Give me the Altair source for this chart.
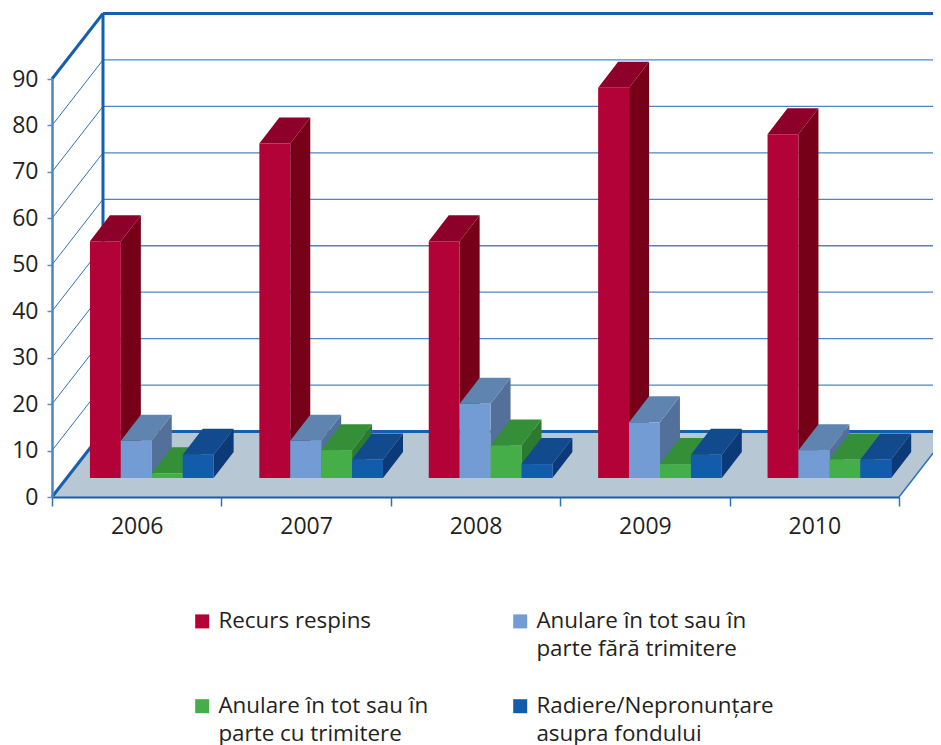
import altair as alt
import pandas as pd

years = [2006, 2007, 2008, 2009, 2010]
series = ["Recurs respins\n ",
          "Anulare în tot sau în\nparte fără trimitere",
          "Anulare în tot sau în\nparte cu trimitere",
          "Radiere/Nepronunțare\nasupra fondului"]
respins = [51, 72, 51, 84, 74]
fara = [8, 8, 16, 12, 6]
cu = [1, 6, 7, 3, 4]
radiere = [5, 4, 3, 5, 4]
values = [respins, fara, cu, radiere]
front = ["#b20238", "#739cd4", "#46ae48", "#125cab"]
top = ["#8c0029", "#5f84b0", "#358f38", "#114a8d"]
side = ["#750018", "#527099", "#2c7a30", "#0c3a78"]
grid_values = [10, 20, 30, 40, 50, 60, 70, 80]
FONT = "Open Sans"
INK = "#231f20"

# 3-D projection constants, in axis units
WALL_DX, WALL_DY = 0.301, 14.1
BAR_DX, BAR_DY = 0.118, 5.6
BASE = 4.09
START, BAR_W = 0.224, 0.1825

xs = alt.Scale(domain=[0, 5], nice=False, zero=False)
ys = alt.Scale(domain=[0, 90], nice=False, zero=False)
x_axis = alt.Axis(values=[i / 2 for i in range(11)],
                  labelExpr="datum.value % 1 == 0 ? '' : '' + (2006 + floor(datum.value))",
                  tickOpacity={"condition": {"test": "datum.value % 1 != 0", "value": 0}, "value": 1},
                  tickSize=9, tickColor="#2f72b8", tickWidth=1.5,
                  domainColor="#1560ae", domainWidth=2, labelFont=FONT, labelFontSize=23,
                  labelColor=INK, labelPadding=9, grid=False, zindex=1, labelOverlap=False,
                  labelFlush=False)
y_axis = alt.Axis(values=[i * 10 for i in range(10)], format="d",
                  tickSize=5, tickColor="#5b8ecb", tickWidth=1.5,
                  domainColor="#4a86c5", domainWidth=2.5, labelFont=FONT, labelFontSize=23,
                  labelColor=INK, labelPadding=9, grid=False, zindex=1, labelOverlap=False)
X = lambda f: alt.X(f, type="quantitative", scale=xs, title=None, axis=x_axis)
Y = lambda f: alt.Y(f, type="quantitative", scale=ys, title=None, axis=y_axis)

# floor
floor = pd.DataFrame({"y": [0, WALL_DY], "x": [0, WALL_DX], "x2": [5, 5 + WALL_DX]})
floor_layer = alt.Chart(floor).mark_area(orient="horizontal", color="#b8c7d4").encode(
    y=Y("y"), x=X("x"), x2="x2")

# grid and frame rules
thin = pd.DataFrame({"v": grid_values})
thin["x0"], thin["x1"], thin["x2"] = 0, WALL_DX, 5 + WALL_DX
thin["y1"] = thin["v"] + WALL_DY
back_grid = alt.Chart(thin).mark_rule(color="#4a86c5", strokeWidth=1.3).encode(
    x=X("x1"), x2="x2", y=Y("y1"))
left_grid = alt.Chart(thin).mark_rule(color="#2f72b8", strokeWidth=1).encode(
    x=X("x0"), x2="x1", y=Y("v"), y2="y1")

frame = pd.DataFrame([
    {"x": WALL_DX, "x2": 5 + WALL_DX, "y": 90 + WALL_DY, "y2": 90 + WALL_DY},
    {"x": WALL_DX, "x2": 5 + WALL_DX, "y": WALL_DY, "y2": WALL_DY},
    {"x": WALL_DX, "x2": WALL_DX, "y": WALL_DY, "y2": 90 + WALL_DY},
    {"x": 0, "x2": WALL_DX, "y": 90, "y2": 90 + WALL_DY},
    {"x": 0, "x2": WALL_DX, "y": 0, "y2": WALL_DY},
])
frame_layer = alt.Chart(frame).mark_rule(color="#1560ae", strokeWidth=3).encode(
    x=X("x"), x2="x2", y=Y("y"), y2="y2")
right_edge = pd.DataFrame({"x": [5], "x2": [5 + WALL_DX], "y": [0], "y2": [WALL_DY]})
right_layer = alt.Chart(right_edge).mark_rule(color="#2f72b8", strokeWidth=1.5).encode(
    x=X("x"), x2="x2", y=Y("y"), y2="y2")

legend_order = [0, 2, 1, 3]  # the legend fills column by column
color = alt.Color("series:N",
                  scale=alt.Scale(domain=[series[i] for i in legend_order],
                                  range=[front[i] for i in legend_order]),
                  legend=alt.Legend(orient="none", legendX=139, legendY=531, columns=2, title=None,
                                    symbolType="square", symbolSize=196, symbolStrokeWidth=0,
                                    labelFont=FONT, labelFontSize=22.4, labelColor=INK, labelLimit=300,
                                    labelOffset=5, columnPadding=80, rowPadding=34,
                                    labelExpr="split(datum.label, '\\n')"))

bars = []
for si, (name, vals) in enumerate(zip(series, values)):
    f, s, t = [], [], []
    for yi, (yr, v) in enumerate(zip(years, vals)):
        l = yi + START + si * BAR_W
        r = l + BAR_W
        f.append({"series": name, "l": l, "r": r, "b": BASE, "t": BASE + v})
        s.append({"year": yr, "x": r, "y": BASE + v, "y2": BASE})
        s.append({"year": yr, "x": r + BAR_DX, "y": BASE + v + BAR_DY, "y2": BASE + BAR_DY})
        t.append({"year": yr, "y": BASE + v, "x": l, "x2": r})
        t.append({"year": yr, "y": BASE + v + BAR_DY, "x": l + BAR_DX, "x2": r + BAR_DX})
    bars.append(alt.Chart(pd.DataFrame(s)).mark_area(color=side[si]).encode(
        x=X("x"), y=Y("y"), y2="y2", detail="year:N"))
    bars.append(alt.Chart(pd.DataFrame(t)).mark_area(orient="horizontal", color=top[si]).encode(
        y=Y("y"), x=X("x"), x2="x2", detail="year:N"))
    bars.append(alt.Chart(pd.DataFrame(f)).mark_rect().encode(
        x=X("l"), x2="r", y=Y("b"), y2="t", color=color))

chart = alt.layer(floor_layer, back_grid, left_grid, right_layer, frame_layer, *bars).properties(
    width=847, height=418,
    autosize=alt.AutoSizeParams(type="none"),
    padding={"left": 44, "top": 71, "right": 34, "bottom": 248},
    config={"view": {"stroke": "transparent"}, "style": {"guide-label": {"lineHeight": 28}}},
)

chart.save("out.html", embed_options={"renderer": "svg", "actions": False})
